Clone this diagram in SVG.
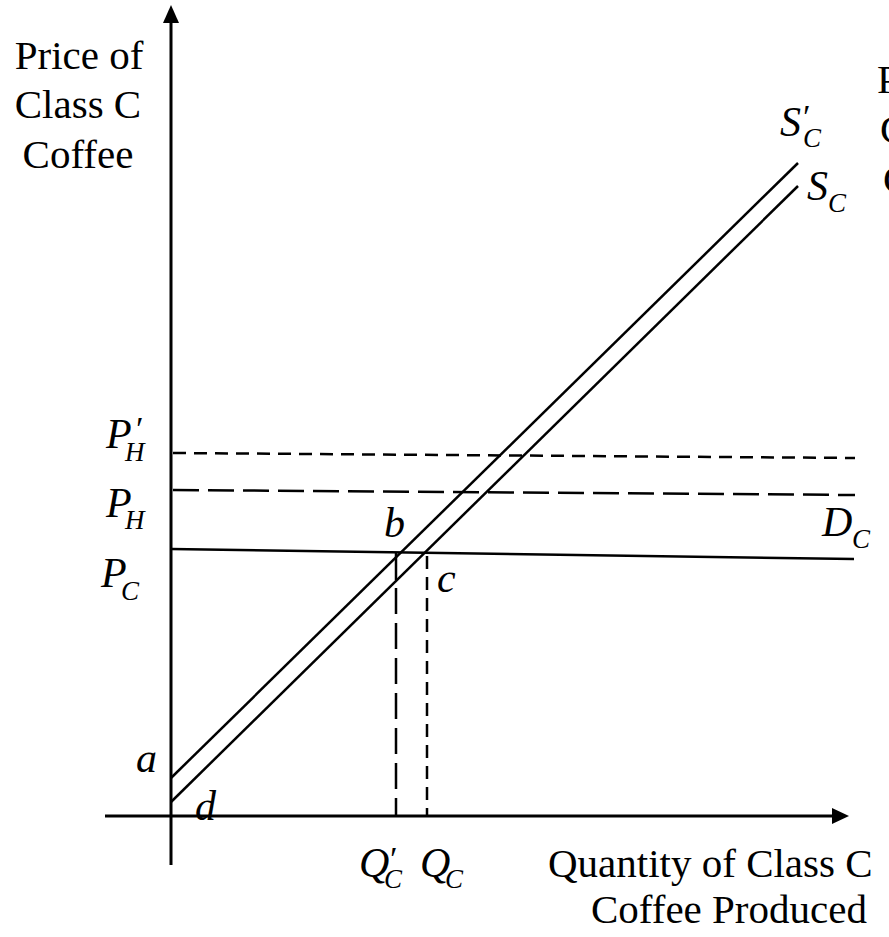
<svg xmlns="http://www.w3.org/2000/svg" width="889" height="937" viewBox="0 0 889 937">
<style>
.ax{stroke:#000;stroke-width:3;fill:none}
.ln{stroke:#000;stroke-width:2.5;fill:none}
.dl{stroke:#000;stroke-width:2.5;fill:none;stroke-dasharray:26 9}
.ds{stroke:#000;stroke-width:2.5;fill:none;stroke-dasharray:13 8}
.lab{font-family:"Liberation Serif","Times New Roman",serif;font-size:41px;fill:#000}
.it{font-family:"Liberation Serif","Times New Roman",serif;font-style:italic;font-size:42px;fill:#000}
.pr{font-size:34px}
.sub{font-size:27px}
</style>
<rect width="889" height="937" fill="#fff"/>
<g id="axes">
<line class="ax" x1="171" y1="865" x2="171" y2="20"/>
<polygon points="171,5 163,23 179,23" fill="#000"/>
<line class="ax" x1="105" y1="816" x2="834" y2="816"/>
<polygon points="849,816 832,808 832,824" fill="#000"/>
</g>
<g id="connectors">
<line id="supply-prime" class="ln" x1="171" y1="778" x2="798" y2="163"/>
<line id="supply" class="ln" x1="171" y1="802" x2="798" y2="186"/>
<line id="demand" class="ln" x1="171" y1="549" x2="854" y2="559"/>
<line id="ph-prime" class="ds" x1="173" y1="453" x2="855" y2="458"/>
<line id="ph" class="dl" x1="173" y1="490" x2="855" y2="495"/>
<line class="ln" x1="396" y1="553" x2="396" y2="580"/>
<line id="qc-prime" class="dl" x1="396" y1="588" x2="396" y2="816"/>
<line id="qc" class="ds" x1="427" y1="556" x2="427" y2="816"/>
</g>
<g id="y-label">
<text class="lab" x="79" y="69" text-anchor="middle" font-size="42">Price of</text>
<text class="lab" x="78" y="118" text-anchor="middle" font-size="42">Class C</text>
<text class="lab" x="78" y="168" text-anchor="middle" font-size="42">Coffee</text>
</g>
<g id="x-label">
<text class="lab" x="548" y="877">Quantity of Class C</text>
<text class="lab" x="591" y="923" font-size="40">Coffee Produced</text>
</g>
<g id="right-label">
<text class="lab" x="877" y="93">P</text>
<text class="lab" x="880" y="143">C</text>
<text class="lab" x="883" y="193">C</text>
</g>
<g id="label-Sprime">
<text class="it" x="780" y="136">S<tspan class="pr" dy="-8">′</tspan><tspan class="sub" x="803" dy="19">C</tspan></text>
</g>
<g id="label-S">
<text class="it" x="807" y="200">S<tspan class="sub" x="828" dy="12">C</tspan></text>
</g>
<g id="label-PHprime">
<text class="it" x="106" y="448">P<tspan class="pr" x="134" dy="-8">′</tspan><tspan class="sub" x="125" dy="21">H</tspan></text>
</g>
<g id="label-PH">
<text class="it" x="106" y="517">P<tspan class="sub" x="125" dy="12">H</tspan></text>
</g>
<g id="label-PC">
<text class="it" x="101" y="587">P<tspan class="sub" x="121" dy="13">C</tspan></text>
</g>
<g id="label-DC">
<text class="it" x="822" y="536">D<tspan class="sub" x="852" dy="12">C</tspan></text>
</g>
<g id="label-b"><text class="it" x="384" y="537">b</text></g>
<g id="label-c"><text class="it" x="437" y="592">c</text></g>
<g id="label-a"><text class="it" x="136" y="772">a</text></g>
<g id="label-d"><text class="it" x="195" y="820">d</text></g>
<g id="label-Qprime">
<text class="it" x="359" y="877">Q<tspan class="pr" x="388" dy="-7">′</tspan><tspan class="sub" x="384" dy="18">C</tspan></text>
</g>
<g id="label-Q">
<text class="it" x="420" y="877">Q<tspan class="sub" x="445" dy="11">C</tspan></text>
</g>
</svg>
